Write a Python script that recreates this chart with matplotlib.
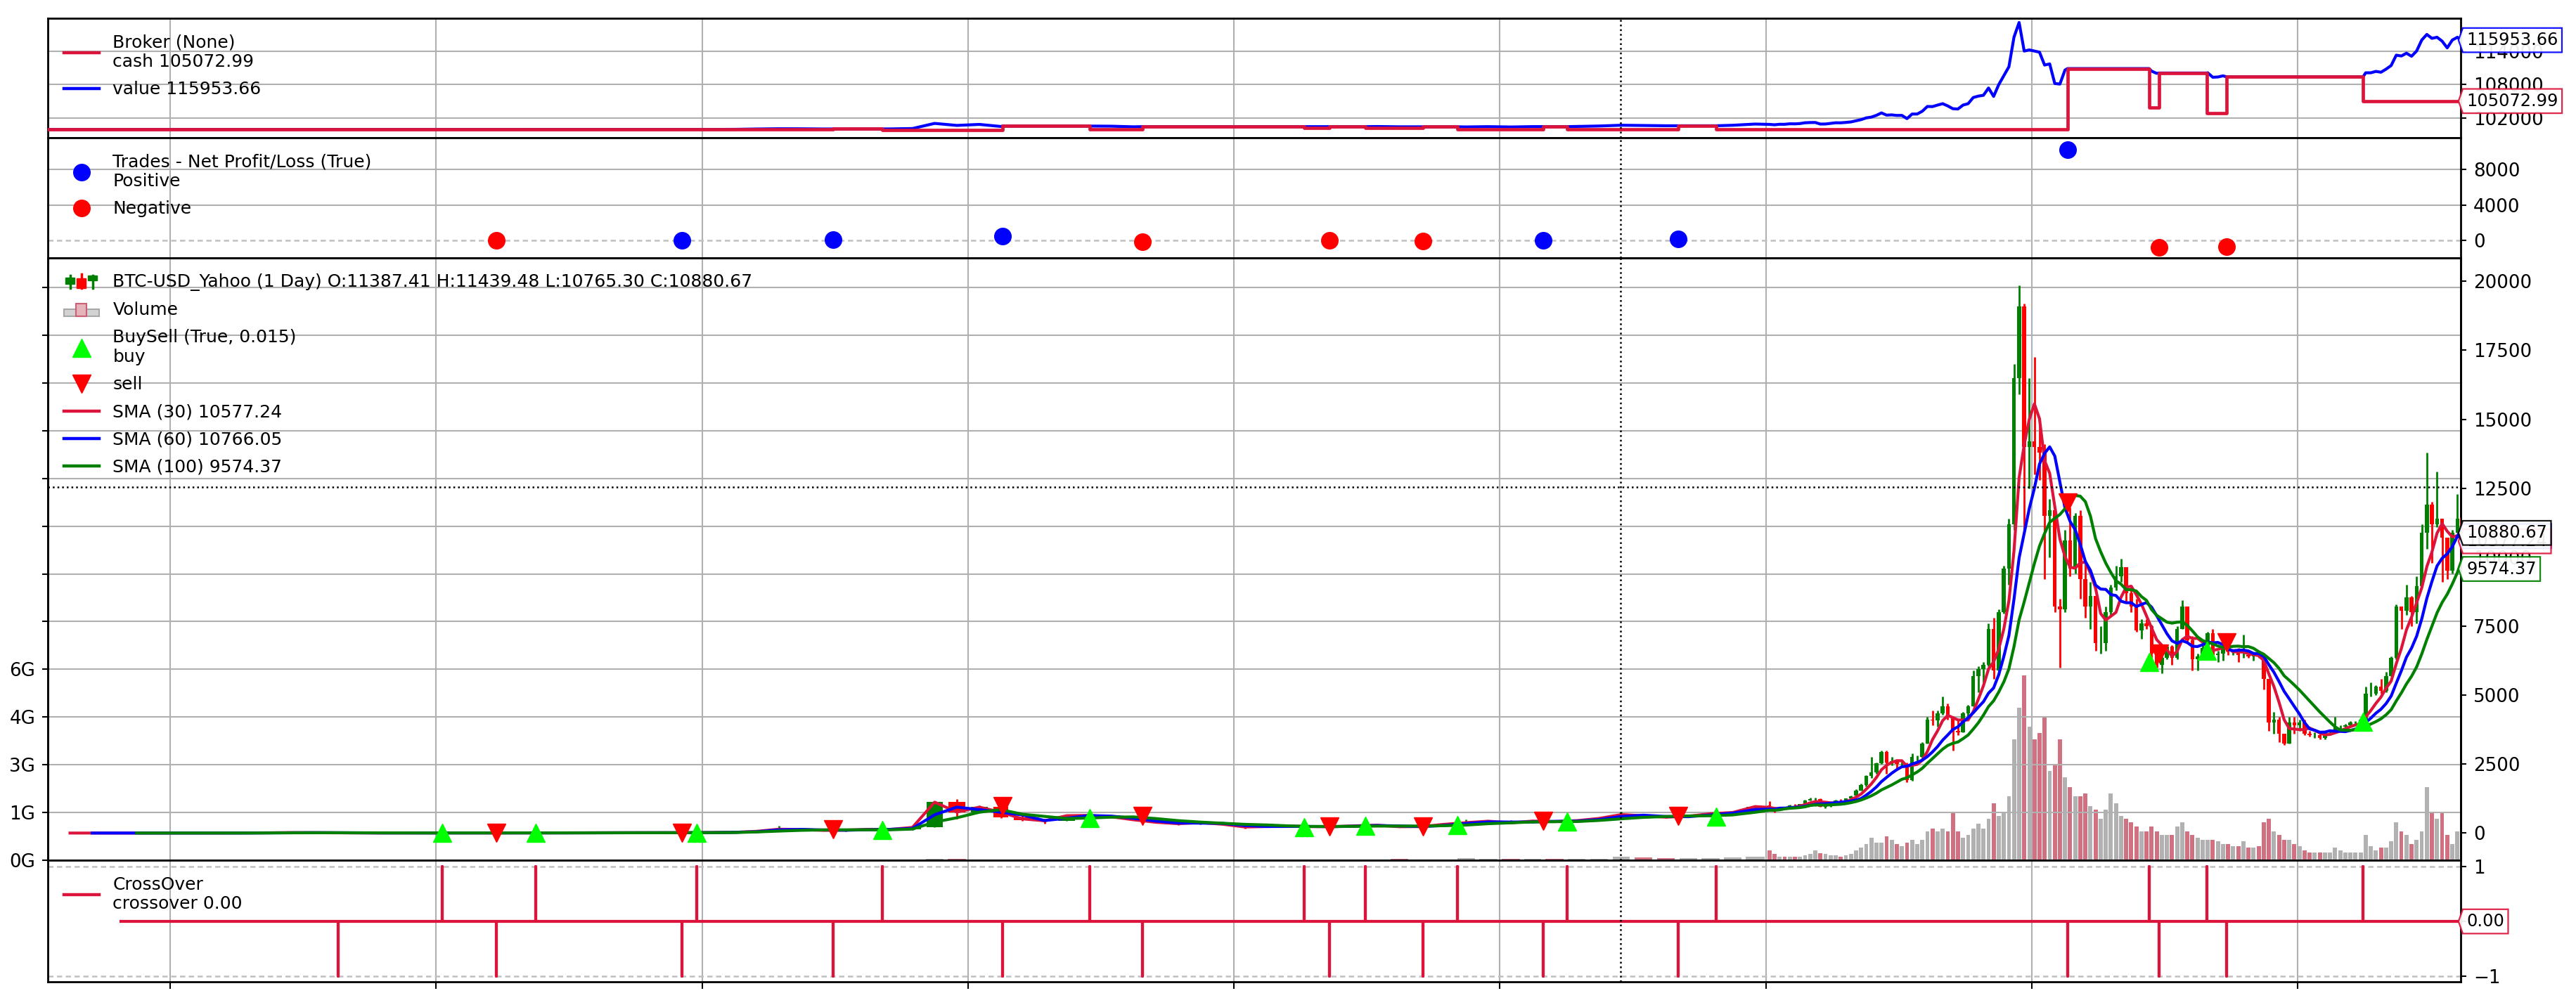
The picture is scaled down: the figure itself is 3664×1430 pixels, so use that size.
import numpy as np
import pandas as pd
import matplotlib
matplotlib.use("Agg")
import matplotlib.pyplot as plt
import matplotlib.transforms as mtransforms
from matplotlib.legend_handler import HandlerBase
from matplotlib.patches import Rectangle
from matplotlib.lines import Line2D
from matplotlib.path import Path
from matplotlib.ticker import FixedLocator, FuncFormatter

# ---------------- data ----------------
start_date = "2010-07-17"
end_date = "2019-08-13"

# monthly bars 2010-07 .. 2016-12
m_open = [0.05, 0.07, 0.06, 0.06, 0.19, 0.21,
          0.30, 0.50, 0.86, 0.78, 3.5, 8.7, 16.1, 13.4, 8.2, 5.1, 3.25, 3.0,
          4.7, 5.5, 4.9, 4.9, 5.0, 5.2, 6.7, 9.2, 10.1, 12.4, 11.2, 12.6,
          13.5, 20.4, 33.4, 93, 139, 129, 97, 106, 135, 133, 204, 1120,
          760, 940, 570, 460, 445, 630, 640, 590, 480, 390, 340, 380,
          320, 220, 255, 245, 235, 230, 262, 285, 230, 236, 315, 378,
          430, 370, 435, 415, 450, 530, 670, 625, 575, 610, 700, 745]
m_high = [0.09, 0.08, 0.07, 0.19, 0.50, 0.30,
          0.50, 1.10, 0.95, 4.0, 9.0, 32.0, 16.7, 13.5, 8.6, 5.2, 3.5, 4.8,
          7.4, 6.3, 5.4, 5.4, 5.2, 6.8, 9.5, 16.4, 12.9, 12.8, 12.6, 13.7,
          21, 34, 95, 266, 140, 129, 111, 138, 145, 218, 1150, 1240,
          1000, 950, 680, 530, 630, 680, 650, 600, 490, 410, 450, 390,
          320, 260, 300, 260, 245, 265, 315, 285, 245, 330, 500, 465,
          460, 440, 440, 465, 550, 780, 700, 630, 615, 735, 750, 975]
m_low = [0.05, 0.06, 0.06, 0.06, 0.19, 0.20,
         0.30, 0.50, 0.70, 0.60, 3.0, 8.5, 12.5, 6.5, 4.5, 2.0, 2.0, 2.8,
         4.7, 4.2, 4.6, 4.8, 4.9, 5.2, 6.6, 7.1, 9.9, 10.6, 10.5, 12.6,
         13, 19.6, 33, 50, 80, 88, 65, 103, 116, 104, 200, 520,
         760, 540, 450, 350, 430, 560, 580, 460, 375, 290, 320, 310,
         170, 210, 240, 215, 225, 218, 255, 200, 225, 236, 300, 350,
         360, 365, 400, 415, 440, 520, 600, 540, 570, 605, 690, 745]
m_close = [0.07, 0.06, 0.06, 0.19, 0.21, 0.30,
           0.50, 0.86, 0.78, 3.5, 8.7, 16.1, 13.4, 8.2, 5.1, 3.25, 3.0, 4.7,
           5.5, 4.9, 4.9, 5.0, 5.2, 6.7, 9.2, 10.1, 12.4, 11.2, 12.6, 13.5,
           20.4, 33.4, 93, 139, 129, 97, 106, 135, 133, 204, 1120, 760,
           940, 570, 460, 445, 630, 640, 590, 480, 390, 340, 380, 320,
           220, 255, 245, 235, 230, 262, 285, 230, 236, 315, 378, 430,
           370, 435, 415, 450, 530, 670, 625, 575, 610, 700, 745, 960]
m_vol = [0, 0, 0, 0, 0, 0,
         0.001, 0.001, 0.001, 0.001, 0.001, 0.002, 0.001, 0.001, 0.001, 0.001, 0.001, 0.001,
         0.001, 0.001, 0.001, 0.001, 0.001, 0.001, 0.001, 0.001, 0.001, 0.001, 0.001, 0.001,
         0.002, 0.003, 0.005, 0.02, 0.01, 0.005, 0.005, 0.005, 0.005, 0.01, 0.04, 0.05,
         0.03, 0.02, 0.02, 0.015, 0.015, 0.015, 0.01, 0.015, 0.015, 0.02, 0.02, 0.015,
         0.03, 0.02, 0.02, 0.015, 0.015, 0.02, 0.03, 0.04, 0.02, 0.03, 0.06, 0.05,
         0.05, 0.05, 0.04, 0.04, 0.05, 0.10, 0.08, 0.06, 0.06, 0.07, 0.08, 0.12]

# weekly bars 2017-01-02 .. 2019-08-12
w_open = [1000, 905, 820, 920, 915, 1015, 995, 1050, 1190, 1230, 1240, 960, 970, 1080, 1190, 1180, 1250,
          1350, 1550, 1750, 2060, 2200, 2520, 2950, 2550, 2600, 2500, 2510, 1930, 2750, 2750, 3250, 4100,
          4080, 4350, 4600, 4200, 3700, 3650, 4350, 4600, 5700, 5950, 6100, 7400, 5900, 8000, 9600, 11200,
          16500, 19100, 14000,
          14200, 14000, 13800, 11500, 11700, 8200, 8100, 10600, 9600, 11500, 9200, 8200, 8600, 6900, 6900,
          8000, 8900, 9300, 9650, 8700, 8200, 7350, 7600, 7500, 6500, 6100, 6350, 6750, 6350, 7400, 8200,
          7000, 6300, 6400, 6700, 7250, 6450, 6500, 6700, 6600, 6600, 6450, 6450, 6400, 6450, 6400, 5600,
          4000, 4100, 3600, 3250, 4000, 3900,
          4000, 3600, 3550, 3550, 3450, 3650, 3680, 3850, 3850, 3900, 4000, 4000, 4100, 5050, 5050, 5300,
          5150, 5700, 6350, 8200, 8050, 8550, 8000, 8950, 10900, 11900, 11200, 11400, 10700, 9500, 10900, 11400]
w_high = [1150, 910, 920, 925, 1030, 1060, 1060, 1200, 1290, 1270, 1250, 1060, 1100, 1200, 1220, 1260, 1350,
          1600, 1800, 2100, 2760, 2550, 2980, 2980, 2770, 2600, 2650, 2550, 2900, 2800, 3300, 4200, 4450,
          4450, 4950, 4700, 4250, 4100, 4400, 4650, 5900, 6050, 6200, 7600, 7800, 8100, 9700, 11400, 17000,
          19850, 19200, 16500,
          17250, 15000, 14100, 12100, 11800, 8500, 11000, 11800, 11600, 11700, 9900, 9100, 8600, 7500, 8200,
          9000, 9700, 9950, 9650, 8900, 8500, 7750, 7750, 7550, 6800, 6400, 6800, 6800, 7500, 8450, 8200,
          7150, 6500, 6800, 7300, 7400, 6600, 6750, 6800, 6650, 6700, 7200, 6550, 6550, 6600, 6450, 5600,
          4400, 4200, 3600, 4200, 4200, 4100,
          4100, 3700, 3650, 3600, 3700, 3700, 4200, 3900, 3950, 4050, 4050, 4150, 5300, 5450, 5350, 5600,
          5850, 6400, 8300, 8200, 9000, 8600, 9300, 11200, 13800, 12000, 13100, 11400, 10700, 11000, 12300, 11440]
w_low = [880, 750, 820, 880, 910, 940, 980, 1050, 1170, 980, 950, 890, 950, 1075, 1150, 1170, 1240,
         1340, 1540, 1700, 2000, 2150, 2500, 2150, 2450, 2350, 2450, 1850, 1900, 2500, 2700, 3250, 3900,
         3850, 4300, 4100, 2980, 3550, 3650, 4200, 4600, 5100, 5450, 6050, 5600, 5850, 7950, 9000, 11000,
         15900, 11000, 12500,
         13000, 12800, 9200, 10000, 8000, 6000, 8000, 9300, 9400, 8500, 7800, 7400, 6600, 6500, 6600,
         7900, 8800, 9100, 8400, 8000, 7300, 7050, 7400, 6300, 6000, 5800, 6300, 6100, 6300, 7400, 6900,
         5900, 5900, 6300, 6700, 6300, 6200, 6250, 6450, 6450, 6200, 6350, 6350, 6250, 6350, 5200, 3700,
         3600, 3300, 3200, 3250, 3600, 3700,
         3550, 3500, 3450, 3400, 3400, 3550, 3650, 3750, 3700, 3850, 3950, 3900, 4100, 4950, 5000, 5050,
         5100, 5700, 6300, 7400, 7900, 7500, 7600, 8950, 10300, 9800, 11100, 9100, 9200, 9400, 10900, 10765]
w_close = [900, 830, 920, 915, 1010, 995, 1050, 1190, 1230, 1240, 960, 970, 1080, 1190, 1180, 1250, 1340,
           1550, 1750, 2060, 2200, 2520, 2950, 2550, 2600, 2500, 2510, 1930, 2750, 2750, 3250, 4100, 4080,
           4350, 4600, 4200, 3700, 3650, 4350, 4600, 5700, 5950, 6100, 7400, 5900, 8000, 9600, 11200, 16500,
           19100, 14000, 14200,
           14000, 13800, 11500, 11700, 8200, 8100, 10600, 9600, 11500, 9200, 8200, 8600, 6900, 6900, 8000,
           8900, 9300, 9650, 8700, 8200, 7350, 7600, 7500, 6500, 6100, 6350, 6750, 6350, 7400, 8200, 7000,
           6300, 6400, 6700, 7250, 6450, 6500, 6700, 6600, 6600, 6450, 6450, 6400, 6450, 6400, 5600, 4000,
           4100, 3600, 3250, 4000, 3900, 4000,
           3600, 3550, 3550, 3450, 3650, 3680, 3850, 3850, 3900, 4000, 4000, 4100, 5050, 5050, 5300, 5150,
           5700, 6350, 8200, 8050, 8550, 8000, 8950, 10900, 11900, 11200, 11400, 10700, 9500, 10900, 11400, 10880.67]
w_vol = [0.3, 0.2, 0.12, 0.1, 0.12, 0.12, 0.12, 0.15, 0.2, 0.3, 0.22, 0.2, 0.15, 0.15, 0.12, 0.15, 0.2,
         0.3, 0.4, 0.5, 0.7, 0.55, 0.55, 0.75, 0.65, 0.5, 0.45, 0.55, 0.65, 0.5, 0.65, 0.9, 1.0,
         0.9, 1.0, 0.9, 1.5, 0.9, 0.7, 0.8, 1.0, 1.15, 1.0, 1.3, 1.8, 1.4, 1.5, 2.0, 3.8,
         4.8, 5.8, 4.2,
         3.8, 4.0, 4.5, 2.8, 3.0, 3.8, 2.6, 2.3, 2.0, 2.0, 2.1, 1.7, 1.6, 1.3, 1.6, 2.1, 1.8, 1.4, 1.3,
         1.2, 1.05, 0.9, 0.9, 1.05, 0.9, 0.8, 0.8, 0.8, 1.05, 1.2, 0.9, 0.8, 0.7, 0.65, 0.65, 0.65, 0.6,
         0.5, 0.5, 0.45, 0.45, 0.6, 0.4, 0.4, 0.45, 1.2, 1.3, 0.9, 0.8, 0.65, 0.65, 0.5, 0.45,
         0.3, 0.25, 0.25, 0.25, 0.25, 0.25, 0.4, 0.3, 0.25, 0.25, 0.25, 0.25, 0.8, 0.45, 0.3, 0.4,
         0.4, 0.6, 1.2, 0.9, 0.8, 0.5, 0.65, 0.9, 2.3, 1.5, 1.3, 1.5, 0.8, 0.5, 0.9, 0.8]

# executed trades (1 unit each)
buy_dates = ["2012-01-10", "2012-05-17", "2012-12-24", "2013-09-05", "2014-06-17", "2015-04-08",
             "2015-07-01", "2015-11-04", "2016-04-03", "2016-10-24", "2018-06-11", "2018-08-29", "2019-04-01"]
buy_prices = [6.9, 5.1, 13.4, 126.0, 610.0, 245.0, 258.0, 400.0, 420.0, 655.0, 6960.0, 7208.0, 4341.31]
sell_dates = ["2012-03-24", "2012-12-04", "2013-06-30", "2014-02-17", "2014-08-28", "2015-05-12",
              "2015-09-18", "2016-03-01", "2016-09-02", "2018-02-19", "2018-06-25", "2018-09-25"]
sell_prices = [4.7, 13.0, 97.0, 640.0, 510.0, 242.0, 232.0, 432.0, 575.0, 10870.0, 6166.0, 6540.0]
xover_extra_down = ["2011-08-20"]
xover_first = "2010-10-25"
start_cash = 100000.0

sma_periods = [30, 60, 100]
sma_colors = ["crimson", "blue", "green"]
sma_last = [10577.24, 10766.05, 9574.37]
last_ohlc = [11387.41, 11439.48, 10765.30, 10880.67]
final_cash = 105072.99
final_value = 115953.66

year_ticks = ["%d-01-01" % y for y in range(2011, 2020)]
crosshair_date = "2016-06-15"
crosshair_price = 12550
vol_label_max = 6.25e9

# ---------------- helpers ----------------
t0 = pd.Timestamp(start_date)


def day(s):
    return float((pd.Timestamp(s) - t0).days)


m_dates = list(pd.date_range("2010-07-01", "2016-12-01", freq="MS"))
m_dates[0] = t0
w_dates = list(pd.date_range("2017-01-02", periods=len(w_close), freq="7D"))
edges = np.array([day(d) for d in m_dates + w_dates] + [day("2019-08-14")])
left = edges[:-1]
widths = np.diff(edges)
centers = left + widths / 2.0

opens = np.array(m_open + w_open, float)
highs = np.array(m_high + w_high, float)
lows = np.array(m_low + w_low, float)
closes = np.array(m_close + w_close, float)
vols = np.array(m_vol + w_vol, float) * 1e9
x_end = day(end_date)

# ---------------- figure layout ----------------
W, H = 3664.0, 1430.0
L, R = 68.0, 3500.0
fig = plt.figure(figsize=(W / 100, H / 100), dpi=100)


def rect(top, bottom):
    return [L / W, 1 - bottom / H, (R - L) / W, (bottom - top) / H]


ax_b = fig.add_axes(rect(26, 196))
ax_t = fig.add_axes(rect(196, 367), sharex=ax_b)
ax_p = fig.add_axes(rect(367, 1224), sharex=ax_b)
ax_x = fig.add_axes(rect(1224, 1397), sharex=ax_b)
ax_v = ax_p.twinx()
ax_v.set_zorder(ax_p.get_zorder() - 1)
ax_p.patch.set_visible(False)

GRID = dict(color="#b0b0b0", lw=1.5)
TICKFS = 18.8
LEGFS = 18
TAGFS = 17.3

for ax in (ax_b, ax_t, ax_p, ax_x, ax_v):
    for sp in ax.spines.values():
        sp.set_linewidth(2.0)
    ax.tick_params(axis="y", labelsize=TICKFS, length=5.8, width=1.5, pad=7)
for ax in (ax_b, ax_t, ax_p, ax_x):
    ax.yaxis.tick_right()
    ax.grid(axis="x", **GRID)
    ax.set_axisbelow(True)
for ax in (ax_b, ax_t, ax_p, ax_v):
    ax.tick_params(axis="x", length=0, labelbottom=False)
ax_v.yaxis.tick_left()

ax_b.set_xlim(0, x_end)
ax_x.set_xticks([day(s) for s in year_ticks])
ax_x.set_xticklabels([])
ax_x.tick_params(axis="x", length=7, width=1.5)


def tag_box(x0, y0, width, height, mutation_size):
    pad = 0.22 * mutation_size
    x0, y0 = x0 - pad, y0 - pad
    x1, y1 = x0 + width + 2 * pad, y0 + height + 2 * pad
    tip = 0.18 * (y1 - y0)
    verts = [(x0, y0), (x1, y0), (x1, y1), (x0, y1), (x0 - tip, (y0 + y1) / 2), (x0, y0), (x0, y0)]
    return Path(verts, closed=True)


def tag(ax, y, txt, color):
    tr = mtransforms.offset_copy(
        mtransforms.blended_transform_factory(ax.transAxes, ax.transData), fig=fig, x=6, units="points")
    ax.text(1.0, y, txt, transform=tr, ha="left", va="center", fontsize=TAGFS, zorder=20, clip_on=False,
            bbox=dict(boxstyle=tag_box, fc="white", ec=color, lw=1.6, alpha=0.92))


def legend(ax, handles, labels, hmap=None):
    leg = ax.legend(handles, labels, loc="upper left", frameon=False, fontsize=LEGFS, labelspacing=0.6,
                    handlelength=2.0, handletextpad=0.8, borderaxespad=0.5, borderpad=0.4, numpoints=1,
                    handler_map=hmap)
    leg.set_zorder(30)


class CandleIcon(HandlerBase):
    def create_artists(self, legend, orig_handle, xd, yd, width, height, fontsize, trans):
        x0, y0 = -xd, -yd
        bw = 0.26 * width
        arts = []
        for fx, c, b0, b1, w0, w1 in [(0.18, "#008000", 0.25, 0.75, -0.1, 0.95),
                                      (0.50, "#ff0000", -0.1, 0.7, -0.1, 1.05),
                                      (0.82, "#008000", 0.55, 0.95, -0.1, 0.95)]:
            cx = x0 + fx * width
            arts.append(Line2D([cx, cx], [y0 + w0 * height, y0 + w1 * height], color=c, lw=2.5, transform=trans))
            arts.append(Rectangle((cx - bw / 2, y0 + b0 * height), bw, (b1 - b0) * height,
                                  fc=c, ec=c, transform=trans))
        return arts


class VolumeIcon(HandlerBase):
    def create_artists(self, legend, orig_handle, xd, yd, width, height, fontsize, trans):
        x0, y0 = -xd, -yd - 0.1 * height
        grey = Rectangle((x0, y0), width, 0.6 * height, fc="#d3d3d3", ec="#a8a8a8", lw=1.5, transform=trans)
        pink = Rectangle((x0 + 0.35 * width, y0), 0.3 * width, 1.05 * height, fc="#e6b3bc", ec="#cc6073",
                         lw=1.5, transform=trans)
        return [grey, pink]


# ---------------- trades / broker bookkeeping ----------------
events = sorted([(day(d), 1, p) for d, p in zip(buy_dates, buy_prices)] +
                [(day(d), -1, p) for d, p in zip(sell_dates, sell_prices)])


def state(t):
    cash, pos = start_cash, 0
    for d, s, p in events:
        if d <= t:
            cash -= s * p
            pos += s
    return cash, pos


trade_px = {d: p for d, s, p in events}
bar_px = dict(zip(centers, closes))
tl = sorted(set([0.0] + list(centers) + list(trade_px.keys())))
tl = [t for t in tl if t <= x_end]
cash_line, value_line = [], []
for t in tl:
    c, pos = state(t)
    px = trade_px.get(t, bar_px.get(t, closes[0]))
    cash_line.append(c)
    value_line.append(c + pos * px)

# ---------------- broker panel ----------------
ax_b.plot(tl, value_line, color="blue", lw=3.0, zorder=3)
ax_b.plot(tl, cash_line, color="crimson", lw=3.4, drawstyle="steps-post", zorder=4)
ax_b.set_ylim(98520, 119860)
ax_b.set_yticks([102000, 108000, 114000])
ax_b.grid(axis="y", **GRID)
tag(ax_b, final_value, "%.2f" % final_value, "blue")
tag(ax_b, final_cash, "%.2f" % final_cash, "crimson")
legend(ax_b, [Line2D([], [], color="crimson", lw=3.2), Line2D([], [], color="blue", lw=3.2)],
       ["Broker (None)\ncash %.2f" % final_cash, "value %.2f" % final_value])

# ---------------- trades panel ----------------
sell_x = np.array([day(d) for d in sell_dates])
pnl = np.array(sell_prices) - np.array(buy_prices[:len(sell_prices)])
ax_t.axhline(0, color="#c0c0c0", lw=1.8, ls=(0, (3, 2)), zorder=1)
for yv in (4000, 8000):
    ax_t.axhline(yv, zorder=0, **GRID)
ax_t.plot(sell_x[pnl > 0], pnl[pnl > 0], "o", color="blue", ms=17, zorder=4)
ax_t.plot(sell_x[pnl <= 0], pnl[pnl <= 0], "o", color="red", ms=17, zorder=4)
ax_t.set_ylim(-1950, 11550)
ax_t.set_yticks([0, 4000, 8000])
legend(ax_t, [Line2D([], [], marker="o", ls="none", color="blue", ms=17),
              Line2D([], [], marker="o", ls="none", color="red", ms=17)],
       ["Trades - Net Profit/Loss (True)\nPositive", "Negative"])

# ---------------- price panel ----------------
up = closes >= opens
ccol = np.where(up, "#008000", "#ff0000")
vcol = np.where(up, "#a9a9a9", "#cc6073")
ax_v.bar(centers, vols, width=widths * 0.8, color=vcol, alpha=0.9, lw=0)
ax_v.set_ylim(0, 18.93e9)
ax_v.yaxis.set_major_locator(FixedLocator(np.arange(0, 19, 1.5) * 1e9))
ax_v.yaxis.set_major_formatter(FuncFormatter(lambda v, p: "%dG" % int(v / 1e9) if v <= vol_label_max else ""))
ax_v.grid(axis="y", **GRID)

ax_p.vlines(centers, lows, highs, colors=ccol, lw=2.0, zorder=3)
ax_p.bar(centers, np.abs(closes - opens), bottom=np.minimum(opens, closes), width=widths * 0.75,
         color=ccol, lw=0, zorder=3)

s_close = pd.Series(closes, index=t0 + pd.to_timedelta(centers, unit="D"))
sma_handles = []
for n, col in zip(sma_periods, sma_colors):
    sma = s_close.rolling("%dD" % n).mean().values
    ok = centers >= n
    ax_p.plot(centers[ok], sma[ok], color=col, lw=3.0, zorder=4)
    sma_handles.append(Line2D([], [], color=col, lw=3.2))


def bar_at(d):
    return int(np.searchsorted(left, d, side="right") - 1)


buy_x = [day(d) for d in buy_dates]
buy_y = [lows[bar_at(x)] * (1 - 0.015) for x in buy_x]
sell_y = [highs[bar_at(x)] * (1 + 0.015) for x in sell_x]
ax_p.plot(buy_x, buy_y, "^", color="#00ff00", ms=18.7, ls="none", zorder=6)
ax_p.plot(sell_x, sell_y, "v", color="#ff0000", ms=18.7, ls="none", zorder=6)

ax_p.set_ylim(-985, 20850)
ax_p.set_yticks(np.arange(0, 20001, 2500))
ax_p.axhline(crosshair_price, color="black", ls=":", lw=1.8, zorder=7)

for v, col in [(sma_last[1], "blue"), (sma_last[0], "crimson"), (sma_last[2], "green")]:
    tag(ax_p, v, "%.2f" % v, col)
tag(ax_p, last_ohlc[3], "%.2f" % last_ohlc[3], "black")

candle_proxy = Line2D([], [])
vol_proxy = Line2D([], [])
legend(ax_p,
       [candle_proxy, vol_proxy,
        Line2D([], [], marker="^", ls="none", color="#00ff00", ms=18.7),
        Line2D([], [], marker="v", ls="none", color="#ff0000", ms=18.7)] + sma_handles,
       ["BTC-USD_Yahoo (1 Day) O:%.2f H:%.2f L:%.2f C:%.2f" % tuple(last_ohlc), "Volume",
        "BuySell (True, 0.015)\nbuy", "sell"] +
       ["SMA (%d) %.2f" % (n, v) for n, v in zip(sma_periods, sma_last)],
       hmap={candle_proxy: CandleIcon(), vol_proxy: VolumeIcon()})

# ---------------- crossover panel ----------------
sig = sorted([(day(d), 1.0) for d in buy_dates] +
             [(day(d), -1.0) for d in sell_dates + xover_extra_down])
xs, ys = [day(xover_first)], [0.0]
for d, v in sig:
    xs += [d, d, d]
    ys += [0.0, v, 0.0]
xs.append(x_end)
ys.append(0.0)
ax_x.plot(xs, ys, color="crimson", lw=3.0, zorder=3)
for yv in (1, -1):
    ax_x.axhline(yv, color="#c0c0c0", lw=1.8, ls=(0, (3, 2)), zorder=1)
ax_x.set_ylim(-1.10, 1.115)
ax_x.set_yticks([-1, 0, 1])
ax_x.set_yticklabels(["\u22121", "", "1"])  # the 0 label sits under the value tag
tag(ax_x, 0.0, "0.00", "crimson")
legend(ax_x, [Line2D([], [], color="crimson", lw=3.2)], ["CrossOver\ncrossover 0.00"])

# crosshair
for ax in (ax_b, ax_t, ax_p, ax_x):
    ax.axvline(day(crosshair_date), color="black", ls=":", lw=1.8, zorder=7)

fig.savefig("out.png", dpi=100, facecolor="white")
